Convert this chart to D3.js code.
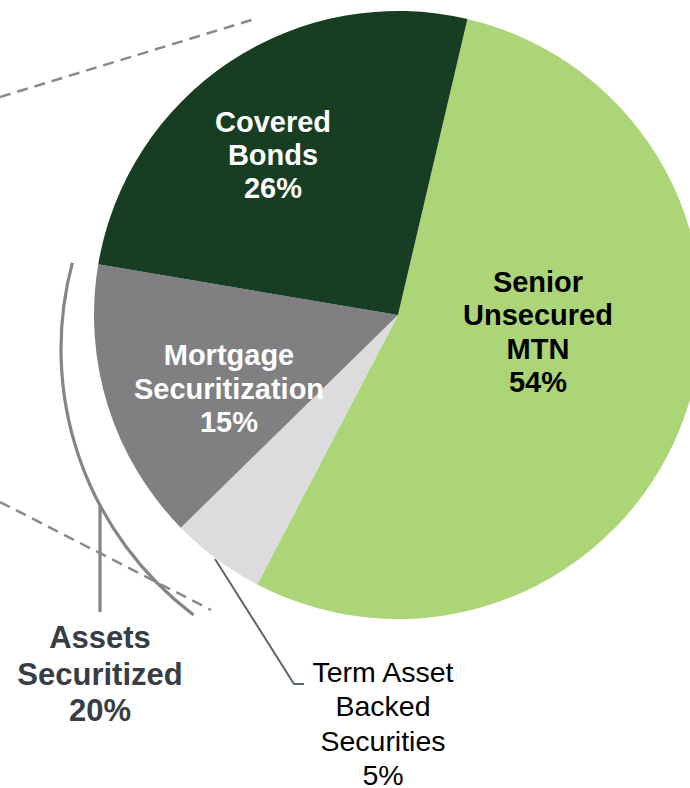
<!DOCTYPE html>
<html>
<head>
<meta charset="utf-8">
<script src="https://cdn.jsdelivr.net/npm/d3@7"></script>
<style>
  html, body { margin: 0; padding: 0; background: #fff; }
  svg { display: block; font-family: Arial, "Liberation Sans", sans-serif; }
</style>
</head>
<body>
<svg id="chart" width="690" height="788"></svg>
<script>
// ---- Data ----
const categories = ["Senior Unsecured MTN", "Term Asset Backed Securities", "Mortgage Securitization", "Covered Bonds"];
const values = [54, 5, 15, 26];
const labelLines = [
  ["Senior", "Unsecured", "MTN", "54%"],
  ["Term Asset", "Backed", "Securities", "5%"],
  ["Mortgage", "Securitization", "15%"],
  ["Covered", "Bonds", "26%"]
];
const groupLabel = ["Assets", "Securitized", "20%"];
const colors = ["#acd577", "#dcdcde", "#808082", "#173d23"];

// ---- Layout ----
const svg = d3.select("#chart");
const cx = 398, cy = 315, R = 304;
const startAngle = 13.2 * Math.PI / 180;

const pie = d3.pie().sort(null).value(d => d)
  .startAngle(startAngle).endAngle(startAngle + 2 * Math.PI);
const arcs = pie(values);
const arc = d3.arc().innerRadius(0).outerRadius(R);

const g = svg.append("g").attr("transform", `translate(${cx},${cy})`);
g.selectAll("path.slice").data(arcs).enter().append("path")
  .attr("class", "slice")
  .attr("d", arc)
  .attr("fill", (d, i) => colors[i]);

// Dashed guide lines
const dash = svg.append("g").attr("stroke", "#8a8a8a").attr("stroke-width", 2.5)
  .attr("stroke-dasharray", "11,7").attr("fill", "none");
dash.append("line").attr("x1", 0).attr("y1", 97).attr("x2", 258).attr("y2", 18);
dash.append("line").attr("x1", 0).attr("y1", 502).attr("x2", 211).attr("y2", 610);

// Bracket arc for assets securitized
const bracket = d3.arc().innerRadius(333).outerRadius(333)
  .startAngle(217 * Math.PI / 180).endAngle(285 * Math.PI / 180);
svg.append("path")
  .attr("transform", "translate(394,349)")
  .attr("d", bracket())
  .attr("fill", "none").attr("stroke", "#858585").attr("stroke-width", 3.2);
svg.append("line").attr("x1", 100).attr("y1", 506).attr("x2", 100).attr("y2", 612)
  .attr("stroke", "#858585").attr("stroke-width", 3.2);

// Leader line for Term ABS
svg.append("polyline")
  .attr("points", "215,559 294,684 304,684")
  .attr("fill", "none").attr("stroke", "#5b6672").attr("stroke-width", 2);

// ---- Labels ----
function drawLabel(lines, x, y0, dy, opts) {
  const t = svg.append("text")
    .attr("text-anchor", "middle")
    .attr("font-size", opts.size)
    .attr("font-weight", opts.weight)
    .attr("fill", opts.fill);
  lines.forEach((s, i) => {
    t.append("tspan").attr("x", x).attr("y", y0 + i * dy).text(s);
  });
}
drawLabel(labelLines[3], 273, 132, 33, { size: 29, weight: "bold", fill: "#ffffff" });
drawLabel(labelLines[0], 538, 292, 33.3, { size: 29, weight: "bold", fill: "#000000" });
drawLabel(labelLines[2], 229, 365, 33.5, { size: 29, weight: "bold", fill: "#ffffff" });
drawLabel(labelLines[1], 383, 682, 34.4, { size: 28.5, weight: "normal", fill: "#000000" });
drawLabel(groupLabel, 100, 648, 36.5, { size: 31, weight: "bold", fill: "#383d44" });
</script>
</body>
</html>
